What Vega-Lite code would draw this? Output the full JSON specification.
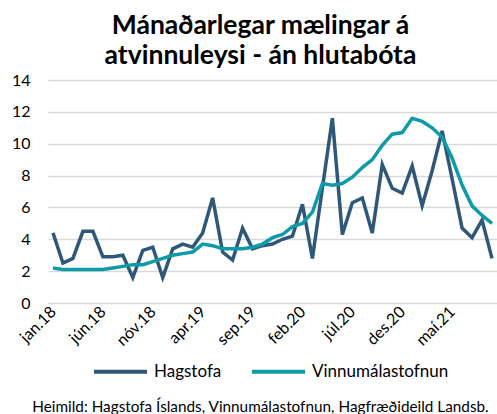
{
  "$schema": "https://vega.github.io/schema/vega-lite/v6.json",
  "width": 449,
  "height": 223,
  "autosize": {"type": "none"},
  "padding": {"left": 48, "top": 80, "right": 0, "bottom": 111},
  "background": "white",
  "title": {
    "text": ["Mánaðarlegar mælingar á", "atvinnuleysi - án hlutabóta"],
    "font": "Lato",
    "fontSize": 26.5,
    "fontWeight": "bold",
    "color": "#000000",
    "anchor": "middle",
    "dx": -12,
    "offset": 3,
    "lineHeight": 30
  },
  "data": {
    "values": [
      {"m": "jan.18", "Hagstofa": 4.4, "Vinnumálastofnun": 2.2},
      {"m": "feb.18", "Hagstofa": 2.5, "Vinnumálastofnun": 2.1},
      {"m": "mar.18", "Hagstofa": 2.8, "Vinnumálastofnun": 2.1},
      {"m": "apr.18", "Hagstofa": 4.5, "Vinnumálastofnun": 2.1},
      {"m": "maí.18", "Hagstofa": 4.5, "Vinnumálastofnun": 2.1},
      {"m": "jún.18", "Hagstofa": 2.9, "Vinnumálastofnun": 2.1},
      {"m": "júl.18", "Hagstofa": 2.9, "Vinnumálastofnun": 2.2},
      {"m": "ágú.18", "Hagstofa": 3.0, "Vinnumálastofnun": 2.3},
      {"m": "sep.18", "Hagstofa": 1.6, "Vinnumálastofnun": 2.4},
      {"m": "okt.18", "Hagstofa": 3.3, "Vinnumálastofnun": 2.4},
      {"m": "nóv.18", "Hagstofa": 3.5, "Vinnumálastofnun": 2.6},
      {"m": "des.18", "Hagstofa": 1.6, "Vinnumálastofnun": 2.8},
      {"m": "jan.19", "Hagstofa": 3.4, "Vinnumálastofnun": 3.0},
      {"m": "feb.19", "Hagstofa": 3.7, "Vinnumálastofnun": 3.1},
      {"m": "mar.19", "Hagstofa": 3.5, "Vinnumálastofnun": 3.2},
      {"m": "apr.19", "Hagstofa": 4.4, "Vinnumálastofnun": 3.7},
      {"m": "maí.19", "Hagstofa": 6.6, "Vinnumálastofnun": 3.6},
      {"m": "jún.19", "Hagstofa": 3.2, "Vinnumálastofnun": 3.4},
      {"m": "júl.19", "Hagstofa": 2.7, "Vinnumálastofnun": 3.4},
      {"m": "ágú.19", "Hagstofa": 4.7, "Vinnumálastofnun": 3.4},
      {"m": "sep.19", "Hagstofa": 3.4, "Vinnumálastofnun": 3.5},
      {"m": "okt.19", "Hagstofa": 3.6, "Vinnumálastofnun": 3.7},
      {"m": "nóv.19", "Hagstofa": 3.7, "Vinnumálastofnun": 4.1},
      {"m": "des.19", "Hagstofa": 4.0, "Vinnumálastofnun": 4.3},
      {"m": "jan.20", "Hagstofa": 4.2, "Vinnumálastofnun": 4.8},
      {"m": "feb.20", "Hagstofa": 6.2, "Vinnumálastofnun": 5.0},
      {"m": "mar.20", "Hagstofa": 2.8, "Vinnumálastofnun": 5.7},
      {"m": "apr.20", "Hagstofa": 7.2, "Vinnumálastofnun": 7.5},
      {"m": "maí.20", "Hagstofa": 11.6, "Vinnumálastofnun": 7.4},
      {"m": "jún.20", "Hagstofa": 4.3, "Vinnumálastofnun": 7.5},
      {"m": "júl.20", "Hagstofa": 6.3, "Vinnumálastofnun": 7.9},
      {"m": "ágú.20", "Hagstofa": 6.6, "Vinnumálastofnun": 8.5},
      {"m": "sep.20", "Hagstofa": 4.4, "Vinnumálastofnun": 9.0},
      {"m": "okt.20", "Hagstofa": 8.7, "Vinnumálastofnun": 9.9},
      {"m": "nóv.20", "Hagstofa": 7.2, "Vinnumálastofnun": 10.6},
      {"m": "des.20", "Hagstofa": 6.9, "Vinnumálastofnun": 10.7},
      {"m": "jan.21", "Hagstofa": 8.6, "Vinnumálastofnun": 11.6},
      {"m": "feb.21", "Hagstofa": 6.1, "Vinnumálastofnun": 11.4},
      {"m": "mar.21", "Hagstofa": 8.3, "Vinnumálastofnun": 11.0},
      {"m": "apr.21", "Hagstofa": 10.8, "Vinnumálastofnun": 10.4},
      {"m": "maí.21", "Hagstofa": 7.8, "Vinnumálastofnun": 9.1},
      {"m": "jún.21", "Hagstofa": 4.7, "Vinnumálastofnun": 7.4},
      {"m": "júl.21", "Hagstofa": 4.1, "Vinnumálastofnun": 6.1},
      {"m": "ágú.21", "Hagstofa": 5.2, "Vinnumálastofnun": 5.5},
      {"m": "sep.21", "Hagstofa": 2.8, "Vinnumálastofnun": 5.0}
    ]
  },
  "transform": [
    {"fold": ["Hagstofa", "Vinnumálastofnun"], "as": ["series", "value"]}
  ],
  "mark": {"type": "line", "strokeWidth": 3.5, "strokeJoin": "miter", "strokeCap": "butt"},
  "encoding": {
    "x": {
      "field": "m",
      "type": "ordinal",
      "sort": null,
      "scale": {"type": "point", "padding": 0.5},
      "axis": {
        "title": "Heimild: Hagstofa Íslands, Vinnumálastofnun, Hagfræðideild Landsb.",
        "titleFont": "Lato",
        "titleFontSize": 15.3,
        "titleFontWeight": "normal",
        "titleColor": "#000000",
        "titleAnchor": "middle",
        "titleX": 212,
        "titleY": 108,
        "titleBaseline": "alphabetic",
        "titleLimit": 600,
        "values": ["jan.18", "jún.18", "nóv.18", "apr.19", "sep.19", "feb.20", "júl.20", "des.20", "maí.21"],
        "labelAngle": -45,
        "labelAlign": "right",
        "labelBaseline": "middle",
        "labelFont": "Lato",
        "labelFontSize": 16,
        "labelColor": "#000000",
        "labelPadding": 6,
        "labelOverlap": false,
        "domain": false,
        "ticks": false,
        "grid": false
      }
    },
    "y": {
      "field": "value",
      "type": "quantitative",
      "scale": {"domain": [0, 14]},
      "axis": {
        "title": null,
        "values": [0, 2, 4, 6, 8, 10, 12, 14],
        "labelFont": "Lato",
        "labelFontSize": 16,
        "labelColor": "#000000",
        "labelPadding": 18,
        "domain": false,
        "ticks": false,
        "grid": true,
        "gridColor": "#d9d9d9",
        "gridWidth": 1.5
      }
    },
    "color": {
      "field": "series",
      "type": "nominal",
      "scale": {"domain": ["Hagstofa", "Vinnumálastofnun"], "range": ["#2f5878", "#0e9aa7"]},
      "legend": {
        "orient": "none",
        "legendX": 44,
        "legendY": 263,
        "direction": "horizontal",
        "title": null,
        "symbolType": "stroke",
        "symbolSize": 2809,
        "symbolStrokeWidth": 4,
        "labelFont": "Lato",
        "labelFontSize": 17,
        "labelColor": "#000000",
        "labelOffset": 5,
        "columnPadding": 22,
        "labelLimit": 300
      }
    }
  },
  "config": {"view": {"stroke": null}}
}
